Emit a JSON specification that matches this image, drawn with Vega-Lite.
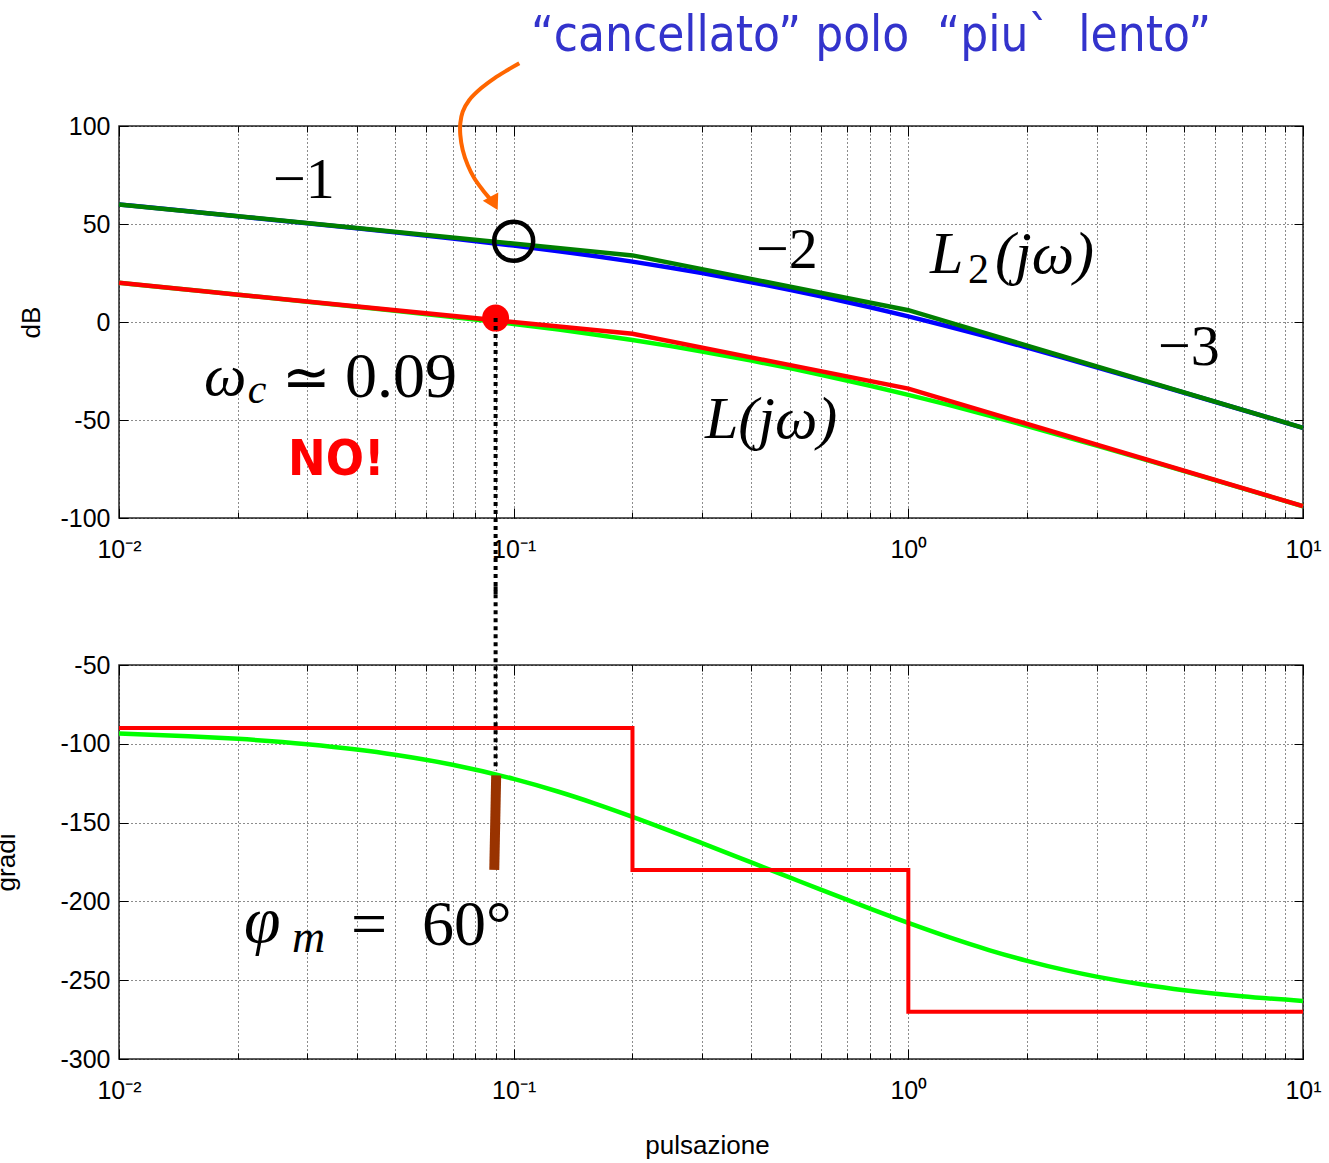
{
  "$schema": "https://vega.github.io/schema/vega-lite/v6.json",
  "background": "white",
  "padding": {"left": -8, "top": 11, "right": 5, "bottom": 5},
  "bounds": "flush",
  "spacing": 147,
  "config": {
    "view": {"stroke": "#262626", "strokeWidth": 1.5},
    "axis": {"labelFont": "Liberation Sans", "titleFont": "Liberation Sans", "labelColor": "#000", "titleColor": "#000", "tickColor": "#000", "tickWidth": 1, "domain": false}
  },
  "datasets": {
    "mag": [
      {"w": 0.01, "db": 59.99, "curve": "L2 esatto"},
      {"w": 0.015, "db": 56.45, "curve": "L2 esatto"},
      {"w": 0.02, "db": 53.93, "curve": "L2 esatto"},
      {"w": 0.03, "db": 50.36, "curve": "L2 esatto"},
      {"w": 0.04, "db": 47.78, "curve": "L2 esatto"},
      {"w": 0.05, "db": 45.75, "curve": "L2 esatto"},
      {"w": 0.07, "db": 42.58, "curve": "L2 esatto"},
      {"w": 0.1, "db": 38.99, "curve": "L2 esatto"},
      {"w": 0.13, "db": 36.12, "curve": "L2 esatto"},
      {"w": 0.16, "db": 33.66, "curve": "L2 esatto"},
      {"w": 0.2, "db": 30.8, "curve": "L2 esatto"},
      {"w": 0.25, "db": 27.69, "curve": "L2 esatto"},
      {"w": 0.3, "db": 24.97, "curve": "L2 esatto"},
      {"w": 0.4, "db": 20.32, "curve": "L2 esatto"},
      {"w": 0.5, "db": 16.45, "curve": "L2 esatto"},
      {"w": 0.6, "db": 13.1, "curve": "L2 esatto"},
      {"w": 0.8, "db": 7.49, "curve": "L2 esatto"},
      {"w": 1, "db": 2.84, "curve": "L2 esatto"},
      {"w": 1.25, "db": -2.05, "curve": "L2 esatto"},
      {"w": 1.6, "db": -7.73, "curve": "L2 esatto"},
      {"w": 2, "db": -13.05, "curve": "L2 esatto"},
      {"w": 2.5, "db": -18.53, "curve": "L2 esatto"},
      {"w": 3, "db": -23.08, "curve": "L2 esatto"},
      {"w": 4, "db": -30.38, "curve": "L2 esatto"},
      {"w": 5, "db": -36.1, "curve": "L2 esatto"},
      {"w": 7, "db": -44.78, "curve": "L2 esatto"},
      {"w": 10, "db": -54.02, "curve": "L2 esatto"},
      {"w": 0.01, "db": 60, "curve": "L2 asintotico"},
      {"w": 0.2, "db": 33.98, "curve": "L2 asintotico"},
      {"w": 1, "db": 6.02, "curve": "L2 asintotico"},
      {"w": 10, "db": -53.98, "curve": "L2 asintotico"},
      {"w": 0.01, "db": 19.99, "curve": "L esatto"},
      {"w": 0.015, "db": 16.45, "curve": "L esatto"},
      {"w": 0.02, "db": 13.93, "curve": "L esatto"},
      {"w": 0.03, "db": 10.36, "curve": "L esatto"},
      {"w": 0.04, "db": 7.78, "curve": "L esatto"},
      {"w": 0.05, "db": 5.75, "curve": "L esatto"},
      {"w": 0.07, "db": 2.58, "curve": "L esatto"},
      {"w": 0.1, "db": -1.01, "curve": "L esatto"},
      {"w": 0.13, "db": -3.88, "curve": "L esatto"},
      {"w": 0.16, "db": -6.34, "curve": "L esatto"},
      {"w": 0.2, "db": -9.2, "curve": "L esatto"},
      {"w": 0.25, "db": -12.31, "curve": "L esatto"},
      {"w": 0.3, "db": -15.03, "curve": "L esatto"},
      {"w": 0.4, "db": -19.68, "curve": "L esatto"},
      {"w": 0.5, "db": -23.55, "curve": "L esatto"},
      {"w": 0.6, "db": -26.9, "curve": "L esatto"},
      {"w": 0.8, "db": -32.51, "curve": "L esatto"},
      {"w": 1, "db": -37.16, "curve": "L esatto"},
      {"w": 1.25, "db": -42.05, "curve": "L esatto"},
      {"w": 1.6, "db": -47.73, "curve": "L esatto"},
      {"w": 2, "db": -53.05, "curve": "L esatto"},
      {"w": 2.5, "db": -58.53, "curve": "L esatto"},
      {"w": 3, "db": -63.08, "curve": "L esatto"},
      {"w": 4, "db": -70.38, "curve": "L esatto"},
      {"w": 5, "db": -76.1, "curve": "L esatto"},
      {"w": 7, "db": -84.78, "curve": "L esatto"},
      {"w": 10, "db": -94.02, "curve": "L esatto"},
      {"w": 0.01, "db": 20, "curve": "L asintotico"},
      {"w": 0.2, "db": -6.02, "curve": "L asintotico"},
      {"w": 1, "db": -33.98, "curve": "L asintotico"},
      {"w": 10, "db": -93.98, "curve": "L asintotico"}
    ],
    "phase": [
      {"w": 0.01, "deg": -93.43, "curve": "esatta", "i": 0},
      {"w": 0.015, "deg": -95.15, "curve": "esatta", "i": 1},
      {"w": 0.02, "deg": -96.86, "curve": "esatta", "i": 2},
      {"w": 0.03, "deg": -100.25, "curve": "esatta", "i": 3},
      {"w": 0.04, "deg": -103.6, "curve": "esatta", "i": 4},
      {"w": 0.05, "deg": -106.9, "curve": "esatta", "i": 5},
      {"w": 0.07, "deg": -113.29, "curve": "esatta", "i": 6},
      {"w": 0.1, "deg": -122.28, "curve": "esatta", "i": 7},
      {"w": 0.13, "deg": -130.43, "curve": "esatta", "i": 8},
      {"w": 0.16, "deg": -137.75, "curve": "esatta", "i": 9},
      {"w": 0.2, "deg": -146.31, "curve": "esatta", "i": 10},
      {"w": 0.25, "deg": -155.38, "curve": "esatta", "i": 11},
      {"w": 0.3, "deg": -163.01, "curve": "esatta", "i": 12},
      {"w": 0.4, "deg": -175.24, "curve": "esatta", "i": 13},
      {"w": 0.5, "deg": -184.76, "curve": "esatta", "i": 14},
      {"w": 0.6, "deg": -192.53, "curve": "esatta", "i": 15},
      {"w": 0.8, "deg": -204.62, "curve": "esatta", "i": 16},
      {"w": 1, "deg": -213.69, "curve": "esatta", "i": 17},
      {"w": 1.25, "deg": -222.25, "curve": "esatta", "i": 18},
      {"w": 1.6, "deg": -230.87, "curve": "esatta", "i": 19},
      {"w": 2, "deg": -237.72, "curve": "esatta", "i": 20},
      {"w": 2.5, "deg": -243.63, "curve": "esatta", "i": 21},
      {"w": 3, "deg": -247.75, "curve": "esatta", "i": 22},
      {"w": 4, "deg": -253.1, "curve": "esatta", "i": 23},
      {"w": 5, "deg": -256.4, "curve": "esatta", "i": 24},
      {"w": 7, "deg": -260.23, "curve": "esatta", "i": 25},
      {"w": 10, "deg": -263.14, "curve": "esatta", "i": 26},
      {"w": 0.01, "deg": -90, "curve": "asintotica", "i": 0},
      {"w": 0.2, "deg": -90, "curve": "asintotica", "i": 1},
      {"w": 0.2, "deg": -180, "curve": "asintotica", "i": 2},
      {"w": 1, "deg": -180, "curve": "asintotica", "i": 3},
      {"w": 1, "deg": -270, "curve": "asintotica", "i": 4},
      {"w": 10, "deg": -270, "curve": "asintotica", "i": 5}
    ]
  },
  "vconcat": [
    {
      "width": 1184,
      "height": 392,
      "resolve": {"axis": {"x": "independent", "y": "independent"}},
      "layer": [
        {
          "data": {"name": "mag"},
          "transform": [{"filter": "datum.curve === 'L2 esatto'"}],
          "mark": {"type": "line", "color": "#0000ff", "strokeWidth": 4.5, "interpolate": "monotone"},
          "encoding": {
            "x": {"field": "w", "type": "quantitative", "scale": {"type": "log", "domain": [0.01, 10], "nice": false},
              "axis": {"orient": "bottom", "title": null, "values": [0.01, 0.02, 0.03, 0.04, 0.05, 0.06, 0.07, 0.08, 0.09, 0.1, 0.2, 0.3, 0.4, 0.5, 0.6, 0.7, 0.8, 0.9, 1, 2, 3, 4, 5, 6, 7, 8, 9, 10],
                "grid": true, "gridColor": "#000", "gridOpacity": 0.9, "gridWidth": 1, "gridDash": [1, 3],
                "tickSize": -6, "labelExpr": "datum.value == 0.01 ? '10⁻²' : datum.value == 0.1 ? '10⁻¹' : datum.value == 1 ? '10⁰' : datum.value == 10 ? '10¹' : ''",
                "labelFontSize": 25, "labelPadding": 25, "labelOverlap": false, "labelFlush": false, "labelBound": false}},
            "y": {"field": "db", "type": "quantitative", "scale": {"domain": [-100, 100], "nice": false, "zero": false},
              "axis": {"orient": "left", "values": [-100, -50, 0, 50, 100], "labelExpr": "'' + datum.value", "title": "dB", "titleAngle": 270, "titleBaseline": "alphabetic", "titleAlign": "center", "titleX": -80, "titleY": 196, "titleFontSize": 26, "titleFontWeight": "normal",
                "grid": true, "gridColor": "#000", "gridOpacity": 0.9, "gridWidth": 1, "gridDash": [1, 3],
                "tickSize": -9, "labelFontSize": 25, "labelPadding": 18, "labelOverlap": false, "labelFlush": false}}
          }
        },
        {
          "data": {"name": "mag"},
          "transform": [{"filter": "datum.curve === 'L2 asintotico'"}],
          "mark": {"type": "line", "color": "#007f00", "strokeWidth": 4.5},
          "encoding": {
            "x": {"field": "w", "type": "quantitative", "scale": {"type": "log", "domain": [0.01, 10], "nice": false},
              "axis": {"orient": "top", "title": null, "labels": false, "grid": false, "tickSize": -6, "values": [0.01, 0.02, 0.03, 0.04, 0.05, 0.06, 0.07, 0.08, 0.09, 0.1, 0.2, 0.3, 0.4, 0.5, 0.6, 0.7, 0.8, 0.9, 1, 2, 3, 4, 5, 6, 7, 8, 9, 10]}},
            "y": {"field": "db", "type": "quantitative", "scale": {"domain": [-100, 100], "nice": false, "zero": false},
              "axis": {"orient": "right", "title": null, "labels": false, "grid": false, "tickSize": -9, "values": [-100, -50, 0, 50, 100]}}
          }
        },
        {
          "data": {"name": "mag"},
          "transform": [{"filter": "datum.curve === 'L esatto'"}],
          "mark": {"type": "line", "color": "#00ff00", "strokeWidth": 4.5, "interpolate": "monotone"},
          "encoding": {
            "x": {"field": "w", "type": "quantitative", "scale": {"type": "log", "domain": [0.01, 10], "nice": false},
              "axis": {"orient": "bottom", "title": null, "labels": false, "grid": false, "tickSize": -10, "values": [0.01, 0.1, 1, 10]}},
            "y": {"field": "db", "type": "quantitative", "scale": {"domain": [-100, 100], "nice": false, "zero": false}, "axis": null}
          }
        },
        {
          "data": {"name": "mag"},
          "transform": [{"filter": "datum.curve === 'L asintotico'"}],
          "mark": {"type": "line", "color": "#ff0000", "strokeWidth": 4.5},
          "encoding": {
            "x": {"field": "w", "type": "quantitative", "scale": {"type": "log", "domain": [0.01, 10], "nice": false},
              "axis": {"orient": "top", "title": null, "labels": false, "grid": false, "tickSize": -10, "values": [0.01, 0.1, 1, 10]}},
            "y": {"field": "db", "type": "quantitative", "scale": {"domain": [-100, 100], "nice": false, "zero": false}, "axis": null}
          }
        },
        {
          "data": {"values": [{"w": 0.09, "db": 2}]},
          "mark": {"type": "point", "shape": "circle", "filled": true, "color": "#ff0000", "opacity": 1, "size": 729},
          "encoding": {
            "x": {"field": "w", "type": "quantitative", "scale": {"type": "log", "domain": [0.01, 10], "nice": false}, "axis": null},
            "y": {"field": "db", "type": "quantitative", "scale": {"domain": [-100, 100], "nice": false, "zero": false}, "axis": null}
          }
        },
        {
          "data": {"values": [{"w": 0.09, "db": 2, "db2": -140}]},
          "mark": {"type": "rule", "color": "#000", "strokeWidth": 4, "strokeDash": [4, 4]},
          "encoding": {
            "x": {"field": "w", "type": "quantitative", "scale": {"type": "log", "domain": [0.01, 10], "nice": false}, "axis": null},
            "y": {"field": "db", "type": "quantitative", "scale": {"domain": [-100, 100], "nice": false, "zero": false}, "axis": null},
            "y2": {"field": "db2"}
          }
        },
        {
          "data": {"values": [{"w": 0.1, "db": 41.2}]},
          "mark": {"type": "point", "shape": "circle", "filled": false, "color": "#000", "opacity": 1, "strokeWidth": 4.5, "size": 1521},
          "encoding": {
            "x": {"field": "w", "type": "quantitative", "scale": {"type": "log", "domain": [0.01, 10], "nice": false}, "axis": null},
            "y": {"field": "db", "type": "quantitative", "scale": {"domain": [-100, 100], "nice": false, "zero": false}, "axis": null}
          }
        },
        {
          "data": {"values": [
            {"i": 0, "w": 0.10334, "db": 131.99},
            {"i": 1, "w": 0.09658, "db": 128.57},
            {"i": 2, "w": 0.08931, "db": 124.34},
            {"i": 3, "w": 0.08265, "db": 119.23},
            {"i": 4, "w": 0.07719, "db": 113.27},
            {"i": 5, "w": 0.07428, "db": 107.3},
            {"i": 6, "w": 0.07325, "db": 101.38},
            {"i": 7, "w": 0.07325, "db": 95.41},
            {"i": 8, "w": 0.07428, "db": 87.76},
            {"i": 9, "w": 0.07648, "db": 80.1},
            {"i": 10, "w": 0.07948, "db": 73.32},
            {"i": 11, "w": 0.08347, "db": 67.35},
            {"i": 12, "w": 0.08761, "db": 62.24}
          ]},
          "mark": {"type": "line", "color": "#ff6600", "strokeWidth": 4, "interpolate": "catmull-rom"},
          "encoding": {
            "x": {"field": "w", "type": "quantitative", "scale": {"type": "log", "domain": [0.01, 10], "nice": false}, "axis": null},
            "y": {"field": "db", "type": "quantitative", "scale": {"domain": [-100, 100], "nice": false, "zero": false}, "axis": null},
            "order": {"field": "i", "type": "quantitative"}
          }
        },
        {
          "data": {"values": [{"w": 0.08921, "db": 60.56}]},
          "mark": {"type": "point", "shape": "triangle-down", "filled": true, "color": "#ff6600", "opacity": 1, "size": 306, "angle": -28},
          "encoding": {
            "x": {"field": "w", "type": "quantitative", "scale": {"type": "log", "domain": [0.01, 10], "nice": false}, "axis": null},
            "y": {"field": "db", "type": "quantitative", "scale": {"domain": [-100, 100], "nice": false, "zero": false}, "axis": null}
          }
        },
        {
          "data": {"values": [
            {"t": "−1", "w": 0.02456, "db": 63.27},
            {"t": "−2", "w": 0.4111, "db": 27.55},
            {"t": "−3", "w": 4.292, "db": -21.94},
            {"t": "≃", "w": 0.02588, "db": -38.27}
          ]},
          "mark": {"type": "text", "font": "Liberation Serif", "fontSize": 58, "align": "left", "baseline": "alphabetic", "color": "#000"},
          "encoding": {
            "x": {"field": "w", "type": "quantitative", "scale": {"type": "log", "domain": [0.01, 10], "nice": false}, "axis": null},
            "y": {"field": "db", "type": "quantitative", "scale": {"domain": [-100, 100], "nice": false, "zero": false}, "axis": null},
            "text": {"field": "t"}
          }
        },
        {
          "data": {"values": [{"t": "0.09", "w": 0.03737, "db": -38.27}]},
          "mark": {"type": "text", "font": "Liberation Serif", "fontSize": 64, "align": "left", "baseline": "alphabetic", "color": "#000"},
          "encoding": {
            "x": {"field": "w", "type": "quantitative", "scale": {"type": "log", "domain": [0.01, 10], "nice": false}, "axis": null},
            "y": {"field": "db", "type": "quantitative", "scale": {"domain": [-100, 100], "nice": false, "zero": false}, "axis": null},
            "text": {"field": "t"}
          }
        },
        {
          "data": {"values": [
            {"t": "L", "w": 1.135, "db": 25.0},
            {"t": "(jω)", "w": 1.658, "db": 25.0},
            {"t": "L(jω)", "w": 0.3053, "db": -59.18},
            {"t": "ω", "w": 0.01642, "db": -37.24}
          ]},
          "mark": {"type": "text", "font": "Liberation Serif", "fontStyle": "italic", "fontSize": 60, "align": "left", "baseline": "alphabetic", "color": "#000"},
          "encoding": {
            "x": {"field": "w", "type": "quantitative", "scale": {"type": "log", "domain": [0.01, 10], "nice": false}, "axis": null},
            "y": {"field": "db", "type": "quantitative", "scale": {"domain": [-100, 100], "nice": false, "zero": false}, "axis": null},
            "text": {"field": "t"}
          }
        },
        {
          "data": {"values": [{"t": "c", "w": 0.0212, "db": -41.33}]},
          "mark": {"type": "text", "font": "Liberation Serif", "fontStyle": "italic", "fontSize": 42, "align": "left", "baseline": "alphabetic", "color": "#000"},
          "encoding": {
            "x": {"field": "w", "type": "quantitative", "scale": {"type": "log", "domain": [0.01, 10], "nice": false}, "axis": null},
            "y": {"field": "db", "type": "quantitative", "scale": {"domain": [-100, 100], "nice": false, "zero": false}, "axis": null},
            "text": {"field": "t"}
          }
        },
        {
          "data": {"values": [{"t": "2", "w": 1.4164, "db": 19.9}]},
          "mark": {"type": "text", "font": "Liberation Serif", "fontSize": 42, "align": "left", "baseline": "alphabetic", "color": "#000"},
          "encoding": {
            "x": {"field": "w", "type": "quantitative", "scale": {"type": "log", "domain": [0.01, 10], "nice": false}, "axis": null},
            "y": {"field": "db", "type": "quantitative", "scale": {"domain": [-100, 100], "nice": false, "zero": false}, "axis": null},
            "text": {"field": "t"}
          }
        },
        {
          "data": {"values": [{"t": "NO!", "w": 0.02681, "db": -78.06}]},
          "mark": {"type": "text", "font": "DejaVu Sans Condensed, Liberation Sans", "fontWeight": "bold", "fontSize": 50, "align": "left", "baseline": "alphabetic", "color": "#ff0000"},
          "encoding": {
            "x": {"field": "w", "type": "quantitative", "scale": {"type": "log", "domain": [0.01, 10], "nice": false}, "axis": null},
            "y": {"field": "db", "type": "quantitative", "scale": {"domain": [-100, 100], "nice": false, "zero": false}, "axis": null},
            "text": {"field": "t"}
          }
        },
        {
          "data": {"values": [{"t": "“cancellato” polo\u00a0 “piu`\u00a0 lento”", "w": 0.1106, "db": 138.27}]},
          "mark": {"type": "text", "font": "DejaVu Sans Condensed, Liberation Sans", "fontSize": 49, "align": "left", "baseline": "alphabetic", "color": "#3333cc"},
          "encoding": {
            "x": {"field": "w", "type": "quantitative", "scale": {"type": "log", "domain": [0.01, 10], "nice": false}, "axis": null},
            "y": {"field": "db", "type": "quantitative", "scale": {"domain": [-100, 100], "nice": false, "zero": false}, "axis": null},
            "text": {"field": "t"}
          }
        }
      ]
    },
    {
      "width": 1184,
      "height": 394,
      "resolve": {"axis": {"x": "independent", "y": "independent"}},
      "layer": [
        {
          "data": {"name": "phase"},
          "transform": [{"filter": "datum.curve === 'esatta'"}],
          "mark": {"type": "line", "color": "#00ff00", "strokeWidth": 4.5, "interpolate": "monotone"},
          "encoding": {
            "x": {"field": "w", "type": "quantitative", "scale": {"type": "log", "domain": [0.01, 10], "nice": false},
              "axis": {"orient": "bottom", "title": "pulsazione", "titleFontSize": 26, "titleFontWeight": "normal", "titleBaseline": "alphabetic", "titleX": 588, "titleY": 94,
                "values": [0.01, 0.02, 0.03, 0.04, 0.05, 0.06, 0.07, 0.08, 0.09, 0.1, 0.2, 0.3, 0.4, 0.5, 0.6, 0.7, 0.8, 0.9, 1, 2, 3, 4, 5, 6, 7, 8, 9, 10],
                "grid": true, "gridColor": "#000", "gridOpacity": 0.9, "gridWidth": 1, "gridDash": [1, 3],
                "tickSize": -6, "labelExpr": "datum.value == 0.01 ? '10⁻²' : datum.value == 0.1 ? '10⁻¹' : datum.value == 1 ? '10⁰' : datum.value == 10 ? '10¹' : ''",
                "labelFontSize": 25, "labelPadding": 25, "labelOverlap": false, "labelFlush": false, "labelBound": false}},
            "y": {"field": "deg", "type": "quantitative", "scale": {"domain": [-300, -50], "nice": false, "zero": false},
              "axis": {"orient": "left", "values": [-300, -250, -200, -150, -100, -50], "labelExpr": "'' + datum.value", "title": "gradi", "titleAngle": 270, "titleBaseline": "alphabetic", "titleAlign": "center", "titleX": -105, "titleY": 197, "titleFontSize": 26, "titleFontWeight": "normal",
                "grid": true, "gridColor": "#000", "gridOpacity": 0.9, "gridWidth": 1, "gridDash": [1, 3],
                "tickSize": -9, "labelFontSize": 25, "labelPadding": 18, "labelOverlap": false, "labelFlush": false}},
            "order": {"field": "i", "type": "quantitative"}
          }
        },
        {
          "data": {"name": "phase"},
          "transform": [{"filter": "datum.curve === 'asintotica'"}],
          "mark": {"type": "line", "color": "#ff0000", "strokeWidth": 4},
          "encoding": {
            "x": {"field": "w", "type": "quantitative", "scale": {"type": "log", "domain": [0.01, 10], "nice": false},
              "axis": {"orient": "top", "title": null, "labels": false, "grid": false, "tickSize": -6, "values": [0.01, 0.02, 0.03, 0.04, 0.05, 0.06, 0.07, 0.08, 0.09, 0.1, 0.2, 0.3, 0.4, 0.5, 0.6, 0.7, 0.8, 0.9, 1, 2, 3, 4, 5, 6, 7, 8, 9, 10]}},
            "y": {"field": "deg", "type": "quantitative", "scale": {"domain": [-300, -50], "nice": false, "zero": false},
              "axis": {"orient": "right", "title": null, "labels": false, "grid": false, "tickSize": -9, "values": [-300, -250, -200, -150, -100, -50]}},
            "order": {"field": "i", "type": "quantitative"}
          }
        },
        {
          "data": {"values": [{"w": 0.09, "deg": 0, "deg2": -117}]},
          "mark": {"type": "rule", "color": "#000", "strokeWidth": 4, "strokeDash": [4, 4]},
          "encoding": {
            "x": {"field": "w", "type": "quantitative", "scale": {"type": "log", "domain": [0.01, 10], "nice": false},
              "axis": {"orient": "bottom", "title": null, "labels": false, "grid": false, "tickSize": -10, "values": [0.01, 0.1, 1, 10]}},
            "y": {"field": "deg", "type": "quantitative", "scale": {"domain": [-300, -50], "nice": false, "zero": false}, "axis": null},
            "y2": {"field": "deg2"}
          }
        },
        {
          "data": {"values": [{"w": 0.0903, "deg": -120}, {"w": 0.0893, "deg": -180}]},
          "mark": {"type": "line", "color": "#993300", "strokeWidth": 10},
          "encoding": {
            "x": {"field": "w", "type": "quantitative", "scale": {"type": "log", "domain": [0.01, 10], "nice": false},
              "axis": {"orient": "top", "title": null, "labels": false, "grid": false, "tickSize": -10, "values": [0.01, 0.1, 1, 10]}},
            "y": {"field": "deg", "type": "quantitative", "scale": {"domain": [-300, -50], "nice": false, "zero": false}, "axis": null}
          }
        },
        {
          "data": {"values": [{"t": "φ", "w": 0.02073, "deg": -225.8}]},
          "mark": {"type": "text", "font": "Liberation Serif", "fontStyle": "italic", "fontSize": 66, "align": "left", "baseline": "alphabetic", "color": "#000"},
          "encoding": {
            "x": {"field": "w", "type": "quantitative", "scale": {"type": "log", "domain": [0.01, 10], "nice": false}, "axis": null},
            "y": {"field": "deg", "type": "quantitative", "scale": {"domain": [-300, -50], "nice": false, "zero": false}, "axis": null},
            "text": {"field": "t"}
          }
        },
        {
          "data": {"values": [{"t": "m", "w": 0.02744, "deg": -232.11}]},
          "mark": {"type": "text", "font": "Liberation Serif", "fontStyle": "italic", "fontSize": 46, "align": "left", "baseline": "alphabetic", "color": "#000"},
          "encoding": {
            "x": {"field": "w", "type": "quantitative", "scale": {"type": "log", "domain": [0.01, 10], "nice": false}, "axis": null},
            "y": {"field": "deg", "type": "quantitative", "scale": {"domain": [-300, -50], "nice": false, "zero": false}, "axis": null},
            "text": {"field": "t"}
          }
        },
        {
          "data": {"values": [{"t": "=", "w": 0.03871, "deg": -227.67}, {"t": "60°", "w": 0.05857, "deg": -227.67}]},
          "mark": {"type": "text", "font": "Liberation Serif", "fontSize": 64, "align": "left", "baseline": "alphabetic", "color": "#000"},
          "encoding": {
            "x": {"field": "w", "type": "quantitative", "scale": {"type": "log", "domain": [0.01, 10], "nice": false}, "axis": null},
            "y": {"field": "deg", "type": "quantitative", "scale": {"domain": [-300, -50], "nice": false, "zero": false}, "axis": null},
            "text": {"field": "t"}
          }
        }
      ]
    }
  ]
}
